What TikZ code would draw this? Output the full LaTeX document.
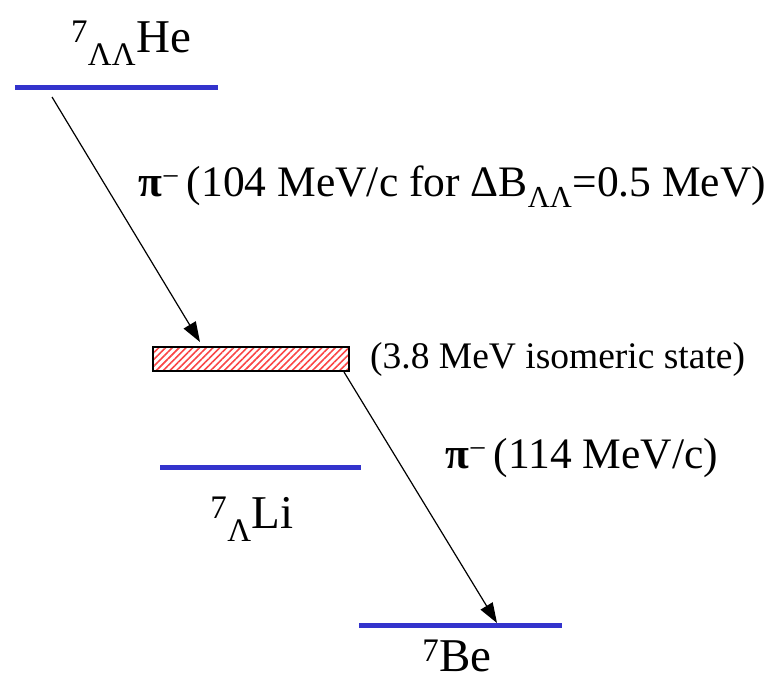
\documentclass[tikz,border=0pt]{standalone}
\usepackage{fontspec}
\setmainfont{Liberation Serif}
\usetikzlibrary{patterns.meta,arrows.meta}
\definecolor{lev}{RGB}{51,51,204}
\definecolor{hatch}{RGB}{250,70,70}
\begin{document}
\begin{tikzpicture}[x=1pt,y=-1pt,
  level/.style={draw=lev,line width=5pt},
  big/.style={font=\fontsize{47}{54}\selectfont,inner sep=0pt},
  mid/.style={font=\fontsize{43.5}{50}\selectfont,inner sep=0pt},
  small/.style={font=\fontsize{37.5}{42}\selectfont,inner sep=0pt},
  decay/.style={draw=black,line width=1.2pt,-{Triangle[length=20pt,width=14pt]}},
  isobox/.style={draw=black,line width=2pt,pattern={Lines[angle=45,distance=4.8pt,line width=1.6pt]},pattern color=hatch,minimum width=196pt,minimum height=24pt,inner sep=0pt}]
\useasboundingbox (0,0) rectangle (771,683);
% levels
\coordinate (heL) at (15,87); \coordinate (heR) at (218,87);
\coordinate (liL) at (160,467); \coordinate (liR) at (361,467);
\coordinate (beL) at (359,625); \coordinate (beR) at (562,625);
\draw[level] (heL) -- (heR);
\draw[level] (liL) -- (liR);
\draw[level] (beL) -- (beR);
% isomeric state
\node[isobox] (iso) at (251,359) {};
% labels
\node[big,anchor=base] (he) at (131,52) {\textsuperscript{7}\textsubscript{ΛΛ}He};
\node[big,anchor=base] (li) at (252,528) {\textsuperscript{7}\textsubscript{Λ}Li};
\node[big,anchor=base] (be) at (457,671) {\textsuperscript{7}Be};
\node[mid,anchor=base west] (pi1) at (138,196) {\textbf{π}\textsuperscript{−}\,(104 MeV/c for ΔB\textsubscript{ΛΛ}=0.5 MeV)};
\node[mid,anchor=base west] (pi2) at (445,468) {\textbf{π}\textsuperscript{−}\,(114 MeV/c)};
\node[small,anchor=base west] (isolab) at (370,368) {(3.8 MeV isomeric state)};
% decays
\coordinate (s1) at (52,97);
\coordinate (e1) at (200,342);
\coordinate (s2) at (344,372);
\coordinate (e2) at (497,623);
\draw[decay] (s1) -- (e1);
\draw[decay] (s2) -- (e2);
\end{tikzpicture}
\end{document}
